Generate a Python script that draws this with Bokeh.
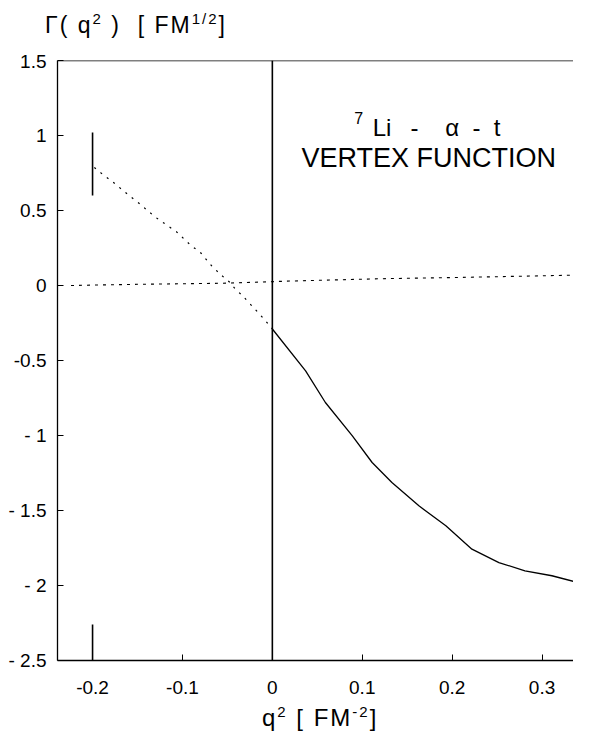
from bokeh.plotting import figure
from bokeh.models import Range1d, Label, FixedTicker, Span, Div
from bokeh.layouts import column
from bokeh.embed import file_html
from bokeh.resources import INLINE

# ---- data ----
# solid branch (q^2 >= 0)
solid_q2 = [0.0, 0.037, 0.059, 0.089, 0.111, 0.133, 0.163, 0.193, 0.222, 0.252, 0.281, 0.311, 0.343]
solid_gamma = [-0.29, -0.569, -0.78, -1.002, -1.18, -1.313, -1.469, -1.602, -1.758, -1.847, -1.902, -1.935, -1.985]

# dotted branch (q^2 < 0)
dotted_q2 = [-0.198, -0.189, -0.178, -0.167, -0.159, -0.148, -0.138, -0.129, -0.118, -0.107,
             -0.091, -0.080, -0.067, -0.056, -0.048, -0.041, -0.033, -0.009, 0.0]
dotted_gamma = [0.787, 0.742, 0.693, 0.638, 0.598, 0.547, 0.495, 0.451, 0.405, 0.36,
                0.269, 0.22, 0.127, 0.065, 0.025, -0.025, -0.069, -0.225, -0.29]

# nearly-zero dotted curve
flat_q2 = [-0.224, -0.15, -0.056, 0.022, 0.12, 0.22, 0.343]
flat_gamma = [0.0, 0.008, 0.015, 0.03, 0.045, 0.055, 0.07]

# vertical marks (x, y0, y1)
mark_x = [-0.2, -0.2, 0.0]
mark_y0 = [0.6, -2.5, -2.5]
mark_y1 = [1.02, -2.26, 1.5]

x_ticks = [-0.2, -0.1, 0.0, 0.1, 0.2, 0.3]
x_tick_labels = ["-0.2", "-0.1", "0", "0.1", "0.2", "0.3"]
y_ticks = [1.5, 1.0, 0.5, 0.0, -0.5, -1.0, -1.5, -2.0, -2.5]
y_tick_labels = ["1.5", "1", "0.5", "0", "-0.5", "- 1", "- 1.5", "- 2", "- 2.5"]

FONT = "Liberation Sans"
SUP = '<sup style="font-size:15px;line-height:0;">'

# quantity label above the plot: Γ(q²) [FM^1/2]
head = Div(
    width=573, height=50, margin=(0, 0, 0, 0),
    text=('<div style="font-family:\'Liberation Sans\';font-size:23px;line-height:23px;'
          'letter-spacing:2px;color:black;padding-left:45px;padding-top:14px;white-space:nowrap;">'
          'Γ( q' + SUP + '2</sup> ) &nbsp;[ FM' + SUP + '1/2</sup>]</div>'))

# x quantity below the plot: q² [FM^-2]
foot = Div(
    width=573, height=30, margin=(0, 0, 0, 0),
    text=('<div style="font-family:\'Liberation Sans\';font-size:24px;line-height:24px;'
          'letter-spacing:2px;color:black;padding-left:262px;padding-top:4px;white-space:nowrap;">'
          'q' + SUP + '2</sup> [ FM' + SUP + '-2</sup>]</div>'))

p = figure(width=573, height=652,
           x_range=Range1d(-0.239, 0.335), y_range=Range1d(-2.5, 1.5),
           output_backend="svg", toolbar_location=None, margin=(0, 0, 0, 0),
           min_border_left=57, min_border_right=0, min_border_top=10, min_border_bottom=42)
p.grid.visible = False
p.outline_line_color = None

# axes
p.xaxis.ticker = FixedTicker(ticks=x_ticks)
p.xaxis.major_label_overrides = {t: s for t, s in zip(x_ticks, x_tick_labels)}
p.yaxis.ticker = FixedTicker(ticks=y_ticks)
p.yaxis.major_label_overrides = {t: s for t, s in zip(y_ticks, y_tick_labels)}
for ax in (p.xaxis[0], p.yaxis[0]):
    ax.major_tick_in = 6
    ax.major_tick_out = 0
    ax.minor_tick_line_color = None
    ax.axis_line_width = 1.3
    ax.axis_line_color = "black"
    ax.major_tick_line_color = "black"
    ax.major_label_text_font = FONT
    ax.major_label_text_font_size = "19px"
    ax.major_label_text_color = "black"
p.xaxis.major_label_standoff = 20
p.yaxis.major_label_standoff = 11

# top frame line
p.add_layout(Span(location=1.5, dimension="width", line_color="black", line_width=1.3))

# curves
p.line(flat_q2, flat_gamma, line_color="black", line_width=1.1, line_dash="3 5")
p.line(dotted_q2, dotted_gamma, line_color="black", line_width=1.2, line_dash="2 6")
p.line(solid_q2, solid_gamma, line_color="black", line_width=1.3)
p.segment(x0=mark_x, y0=mark_y0, x1=mark_x, y1=mark_y1, line_color="black", line_width=1.6)

# annotation  7Li - alpha - t / VERTEX FUNCTION
ann_parts = ["Li", "-", "α", "-", "t"]
ann_x = [0.122, 0.158, 0.200, 0.227, 0.250]
for txt, xx in zip(ann_parts, ann_x):
    p.add_layout(Label(x=xx, y=1.053, text=txt, text_align="center", text_baseline="middle",
                       text_font=FONT, text_font_size="24px", text_color="black"))
p.add_layout(Label(x=0.096, y=1.12, text="7", text_align="center", text_baseline="middle",
                   text_font=FONT, text_font_size="16px", text_color="black"))
p.add_layout(Label(x=0.174, y=0.853, text="VERTEX FUNCTION", text_align="center",
                   text_baseline="middle",
                   text_font=FONT, text_font_size="27px", text_color="black"))

layout = column(head, p, foot, spacing=0, margin=(0, 0, 0, 0))
open("out.html", "w").write(file_html(layout, INLINE))
